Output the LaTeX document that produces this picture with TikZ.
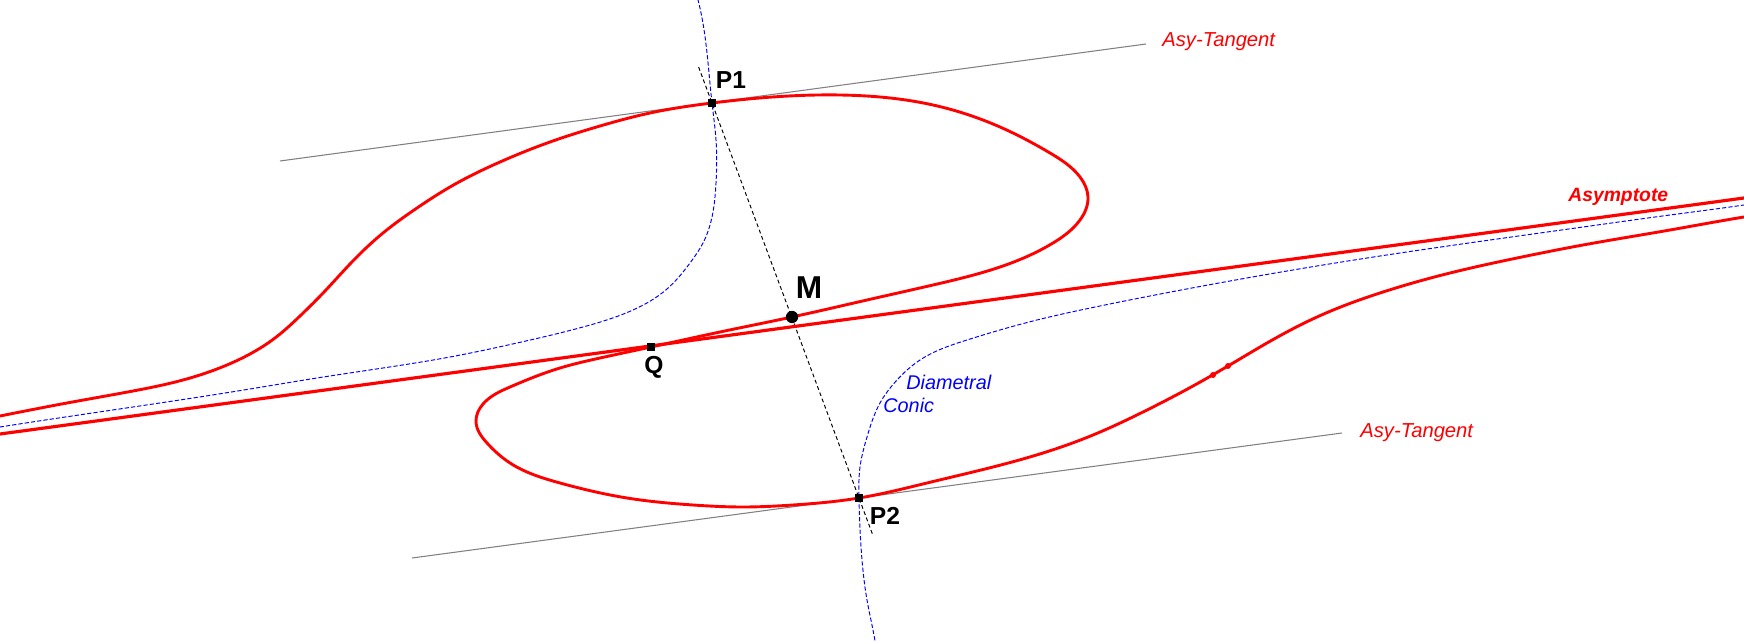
\documentclass[tikz,border=0pt]{standalone}
\usepackage{fontspec}
\setmainfont{Liberation Sans}
\usetikzlibrary{calc,hobby}
\begin{document}
\begin{tikzpicture}[x=0.02cm, y=-0.02cm,
  curve/.style={red, line width=1.65pt, line join=round},
  asym/.style={red, line width=1.8pt},
  diam/.style={blue, line width=0.55pt, dash pattern=on 2.4pt off 1.2pt},
  axisln/.style={black, line width=0.55pt, dash pattern=on 2.2pt off 1.6pt},
  tang/.style={gray, line width=0.6pt},
  ptsq/.style={rectangle, fill=black, minimum size=4.2pt, inner sep=0pt},
  ptdot/.style={circle, fill=black, minimum size=7pt, inner sep=0pt},
  reddot/.style={circle, fill=red, minimum size=3.4pt, inner sep=0pt},
  ptlbl/.style={inner sep=0pt, font=\fontsize{14}{16}\selectfont\bfseries},
  redlbl/.style={red, inner sep=0pt, anchor=base west, font=\fontsize{11.5}{13}\selectfont\itshape},
  bluelbl/.style={blue, inner sep=0pt, anchor=base west, font=\fontsize{11.3}{13}\selectfont\itshape}
]
\useasboundingbox (0,0) rectangle (1744,641);
\clip (0,0) rectangle (1744,641);

% key points
\coordinate (P1) at (712,103);
\coordinate (P2) at (859,498);
\coordinate (Q) at (651,347);
\coordinate (M) at (792,317);
\coordinate (A1) at (0,434);
\coordinate (A2) at (1744,198);
\coordinate (T1a) at (280,161);
\coordinate (T1b) at (1146,44);
\coordinate (T2a) at (412,558);
\coordinate (T2b) at (1342,433);

% asymptote-parallel tangents
\draw[tang] (T1a) -- (T1b);
\draw[tang] (T2a) -- (T2b);

% diametral conic
\draw[diam, use Hobby shortcut] (690,-25) .. (698,0) .. (712,103) .. (716,140) .. (716,183)
 .. (712,217) .. (703,243) .. (690,263) .. (667,289) .. (633,310) .. (583,327)
 .. (517,343) .. (450,357) .. (383,368) .. (317,378) .. (250,389) .. (133,407)
 .. (0,427) .. (-25,431);
\draw[diam, use Hobby shortcut] (1770,201) .. (1744,205) .. (1670,215) .. (1583,227)
 .. (1483,241) .. (1400,253) .. (1317,266) .. (1230,281) .. (1150,296) .. (1100,306)
 .. (1033,321) .. (967,340) .. (920,360) .. (897,380) .. (880,403) .. (867,437)
 .. (860,467) .. (859,498) .. (862,560) .. (867,600) .. (875,641) .. (878,665);

% diameter line
\draw[axisln] ($(P1)!-0.091!(P2)$) -- ($(P2)!-0.094!(P1)$);

% cubic curve
\draw[curve, use Hobby shortcut] (-25,421) .. (0,416) .. (67,403) .. (133,391) .. (183,380)
 .. (217,369) .. (250,354) .. (275,338) .. (300,316) .. (325,291) .. (350,264)
 .. (383,233) .. (417,208) .. (450,187) .. (500,162) .. (550,142) .. (600,126)
 .. (650,113) .. (712,103) .. (840,95) .. (933,105) .. (1000,127) .. (1050,153)
 .. (1080,177) .. (1088,197) .. (1080,220) .. (1053,243) .. (1000,267) .. (933,285)
 .. (867,300) .. (792,317) .. (720,332) .. (651,347) .. (600,358) .. (560,368)
 .. (510,387) .. (483,404) .. (476,422) .. (487,443) .. (510,463) .. (560,483)
 .. (627,498) .. (693,505) .. (743,507) .. (793,505) .. (859,498) .. (927,483)
 .. (993,467) .. (1043,453) .. (1093,435) .. (1143,412) .. (1193,386) .. (1228,366)
 .. (1267,343) .. (1317,317) .. (1383,292) .. (1450,273) .. (1517,258) .. (1583,245)
 .. (1670,230) .. (1744,217) .. (1770,213);

% asymptote
\draw[asym] (A1) -- (A2);

% markers
\node[reddot] (d1) at (1213,375) {};
\node[reddot] (d2) at (1228,366) {};
\node[ptsq] (nP1) at (P1) {};
\node[ptsq] (nP2) at (P2) {};
\node[ptsq] (nQ) at (Q) {};
\node[ptdot] (nM) at (M) {};

% labels
\node[ptlbl] (lP1) at (731,80) {P1};
\node[ptlbl] (lP2) at (885,516) {P2};
\node[ptlbl] (lQ) at (654,367) {Q};
\node[inner sep=0pt, font=\fontsize{18}{20}\selectfont\bfseries] (lM) at (809,288) {M};
\node[redlbl] (lt1) at (1162,47) {Asy-Tangent};
\node[redlbl] (lt2) at (1360,438) {Asy-Tangent};
\node[redlbl, font=\fontsize{11}{13}\selectfont\bfseries\itshape] (la) at (1568,202) {Asymptote};
\node[bluelbl] (ld1) at (906,390) {Diametral};
\node[bluelbl] (ld2) at (883,413) {Conic};
\end{tikzpicture}
\end{document}
